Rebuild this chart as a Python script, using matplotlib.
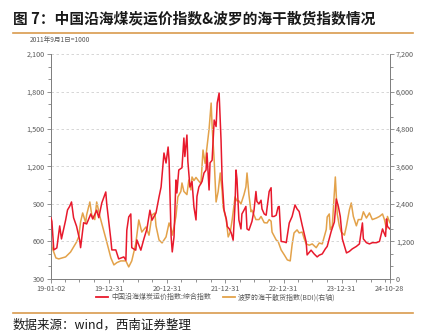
import matplotlib
matplotlib.use('Agg')

import matplotlib.pyplot as plt
import numpy as np
import pandas as pd

plt.rcParams['font.family'] = ['Noto Sans CJK SC', 'DejaVu Sans']
plt.rcParams['axes.unicode_minus'] = False

# ========== 数据 ==========
coal_dates = [
    '2019-01-02', '2019-01-08', '2019-01-20', '2019-02-08', '2019-02-26', '2019-03-09',
    '2019-04-04', '2019-04-16', '2019-04-29', '2019-05-11', '2019-05-24', '2019-06-12',
    '2019-07-01', '2019-07-07', '2019-07-26', '2019-08-14', '2019-09-09', '2019-09-21',
    '2019-10-16', '2019-10-29', '2019-11-17', '2019-12-12', '2019-12-18', '2020-01-13',
    '2020-01-19', '2020-02-13', '2020-03-02', '2020-03-21', '2020-04-03', '2020-04-16',
    '2020-04-22', '2020-05-04', '2020-05-17', '2020-05-23', '2020-06-17', '2020-06-24',
    '2020-07-19', '2020-08-07', '2020-08-26', '2020-09-14', '2020-09-27', '2020-10-22',
    '2020-11-10', '2020-11-23', '2020-12-11', '2020-12-24', '2021-01-06', '2021-01-12',
    '2021-01-25', '2021-02-01', '2021-02-12', '2021-02-24', '2021-03-02', '2021-03-14',
    '2021-04-03', '2021-04-15', '2021-04-21', '2021-05-04', '2021-05-10', '2021-05-23',
    '2021-06-05', '2021-06-17', '2021-06-30', '2021-07-06', '2021-07-18', '2021-08-07',
    '2021-08-19', '2021-09-01', '2021-09-07', '2021-09-20', '2021-09-26', '2021-10-09',
    '2021-10-22', '2021-11-03', '2021-11-10', '2021-11-22', '2021-12-04', '2021-12-11',
    '2021-12-23', '2022-01-06', '2022-01-12', '2022-01-25', '2022-02-06', '2022-02-18',
    '2022-03-02', '2022-03-08', '2022-03-14', '2022-03-20', '2022-03-26', '2022-04-08',
    '2022-04-14', '2022-04-27', '2022-05-09', '2022-05-16', '2022-05-28', '2022-06-16',
    '2022-06-29', '2022-07-11', '2022-07-17', '2022-07-30', '2022-08-12', '2022-08-18',
    '2022-09-01', '2022-09-13', '2022-10-02', '2022-10-14', '2022-10-20', '2022-11-02',
    '2022-11-15', '2022-11-27', '2022-12-04', '2022-12-16', '2023-01-05', '2023-01-17',
    '2023-02-05', '2023-02-23', '2023-03-13', '2023-03-26', '2023-04-08', '2023-04-27',
    '2023-05-22', '2023-05-28', '2023-06-22', '2023-07-11', '2023-07-30', '2023-08-12',
    '2023-08-31', '2023-09-19', '2023-10-01', '2023-10-26', '2023-11-15', '2023-11-27',
    '2023-12-10', '2023-12-22', '2024-01-04', '2024-01-30', '2024-02-17', '2024-03-06',
    '2024-04-01', '2024-04-20', '2024-05-09', '2024-05-15', '2024-06-03', '2024-06-22',
    '2024-07-10', '2024-08-05', '2024-08-24', '2024-09-12', '2024-09-18', '2024-10-01',
    '2024-10-07', '2024-10-13', '2024-10-28',
]
coal_values = [
    790, 760, 532, 548, 724, 620,
    770, 852, 880, 916, 790, 720,
    612, 550, 750, 740, 820, 780,
    850, 790, 908, 996, 900, 612,
    532, 532, 460, 470, 476, 450,
    690, 796, 820, 550, 530, 612,
    530, 620, 700, 850, 770, 828,
    956, 1036, 1308, 1228, 1356, 1250,
    636, 516, 636, 1092, 988, 1172,
    1190, 1428, 1280, 1452, 1240, 1036,
    1080, 876, 772, 960, 1036, 1080,
    1148, 1172, 1308, 1012, 1230, 1250,
    1572, 1520, 1708, 1788, 1412, 1092,
    852, 780, 720, 700, 668, 610,
    900, 1172, 1100, 940, 772, 700,
    820, 850, 880, 700, 690, 760,
    850, 1000, 920, 900, 930, 860,
    820, 810, 1000, 1030, 800, 800,
    810, 876, 880, 600, 596, 590,
    748, 800, 892, 860, 840, 730,
    596, 492, 530, 500, 476, 490,
    500, 540, 560, 680, 756, 940,
    880, 800, 620, 508, 520, 540,
    560, 580, 748, 620, 590, 580,
    590, 590, 600, 700, 680, 640,
    780, 720, 700,
]

bdi_dates = [
    '2019-01-02', '2019-01-08', '2019-02-02', '2019-02-20', '2019-04-04', '2019-05-05',
    '2019-05-24', '2019-06-12', '2019-06-25', '2019-07-07', '2019-07-20', '2019-08-08',
    '2019-08-14', '2019-09-03', '2019-09-15', '2019-10-04', '2019-10-16', '2019-11-05',
    '2019-11-23', '2019-12-18', '2020-01-13', '2020-02-01', '2020-02-19', '2020-03-15',
    '2020-04-16', '2020-05-04', '2020-05-23', '2020-06-17', '2020-07-06', '2020-07-25',
    '2020-08-20', '2020-09-08', '2020-09-27', '2020-10-15', '2020-10-22', '2020-11-10',
    '2020-11-29', '2020-12-24', '2021-01-12', '2021-01-25', '2021-02-01', '2021-02-12',
    '2021-02-24', '2021-03-08', '2021-03-27', '2021-04-03', '2021-04-15', '2021-05-04',
    '2021-05-16', '2021-05-29', '2021-06-05', '2021-06-17', '2021-06-30', '2021-07-12',
    '2021-07-31', '2021-08-13', '2021-08-26', '2021-09-07', '2021-09-20', '2021-10-03',
    '2021-10-09', '2021-10-22', '2021-11-03', '2021-11-16', '2021-11-29', '2021-12-11',
    '2021-12-17', '2022-01-06', '2022-01-18', '2022-01-31', '2022-02-12', '2022-03-02',
    '2022-03-14', '2022-03-26', '2022-04-08', '2022-04-27', '2022-05-09', '2022-05-16',
    '2022-05-28', '2022-06-10', '2022-06-16', '2022-07-11', '2022-07-30', '2022-08-12',
    '2022-09-01', '2022-09-19', '2022-10-02', '2022-10-14', '2022-10-20', '2022-11-15',
    '2022-11-27', '2022-12-16', '2023-01-05', '2023-01-24', '2023-02-11', '2023-02-23',
    '2023-03-07', '2023-03-26', '2023-04-08', '2023-04-27', '2023-05-09', '2023-05-22',
    '2023-06-10', '2023-06-29', '2023-07-24', '2023-08-12', '2023-08-31', '2023-09-25',
    '2023-10-01', '2023-10-14', '2023-10-20', '2023-11-02', '2023-11-21', '2023-12-03',
    '2023-12-16', '2023-12-28', '2024-01-17', '2024-01-30', '2024-02-17', '2024-02-29',
    '2024-03-13', '2024-04-01', '2024-04-13', '2024-05-02', '2024-05-15', '2024-06-03',
    '2024-06-22', '2024-07-10', '2024-08-05', '2024-08-24', '2024-09-12', '2024-09-24',
    '2024-10-07', '2024-10-13', '2024-10-28',
]
bdi_values = [
    1312, 1024, 672, 640, 704, 860,
    1024, 1184, 1344, 1824, 2112, 1800,
    2050, 2464, 2048, 1900, 2464, 2000,
    1664, 1184, 672, 448, 520, 576,
    576, 384, 576, 1120, 1888, 1500,
    1664, 1400, 2048, 2112, 1700, 1248,
    1152, 1344, 1792, 1600, 1400, 1664,
    2000, 2624, 2800, 3072, 2800, 2700,
    3168, 2850, 3264, 3150, 3250, 3168,
    3050, 4128, 3700, 4224, 4800, 5632,
    4900, 3800, 2464, 2800, 3392, 2800,
    2304, 1888, 1344, 1500, 1900, 2624,
    2500, 2500, 2400, 2700, 2944, 3392,
    2700, 2150, 2200, 1900, 1900, 2000,
    1800, 1792, 1900, 1850, 1500, 1248,
    1200, 928, 768, 608, 576, 1100,
    1472, 1570, 1472, 1500, 1300, 1120,
    1080, 1120, 1000, 1150, 1120, 1580,
    1984, 2080, 1580, 1700, 3264, 2080,
    1700, 1500, 1400, 1700, 2208, 2432,
    2000, 1700, 1900, 1900, 2150, 1950,
    2112, 1900, 1950, 2000, 2080, 1900,
    1600, 2000, 1800,
]

x_labels = ['19-01-02', '19-12-31', '20-12-31', '21-12-31', '22-12-31', '23-12-31', '24-10-28']
label_dates = ['2019-01-02', '2019-12-31', '2020-12-31', '2021-12-31',
               '2022-12-31', '2023-12-31', '2024-10-28']

RED = '#E8192C'
ORANGE = '#E3A24A'
RULE = '#D99B4E'
GRAY = '#595959'

# ========== 画图 ==========
fig = plt.figure(figsize=(4.21, 3.34), dpi=100)
ax = fig.add_axes([0.121, 0.165, 0.805, 0.673])
ax2 = ax.twinx()

ax.plot(pd.to_datetime(coal_dates), coal_values, color=RED, lw=1.1, zorder=3)
ax2.plot(pd.to_datetime(bdi_dates), bdi_values, color=ORANGE, lw=1.1, zorder=2)
ax.set_zorder(ax2.get_zorder() + 1)
ax.patch.set_visible(False)

start, end = pd.Timestamp('2019-01-02'), pd.Timestamp('2024-10-28')
ax.set_xlim(start, end)
ax.set_ylim(300, 2100)
ax2.set_ylim(0, 7200)

ax.set_yticks(np.arange(300, 2101, 300))
ax.set_yticklabels([f'{v:,}' for v in range(300, 2101, 300)])
ax.set_yticks(np.arange(300, 2101, 100), minor=True)
ax2.set_yticks(np.arange(0, 7201, 1200))
ax2.set_yticklabels([f'{v:,}' for v in range(0, 7201, 1200)])
ax2.set_yticks(np.arange(0, 7201, 400), minor=True)

ax.set_xticks(pd.to_datetime(label_dates))
ax.set_xticklabels(x_labels)
minor_x = pd.date_range('2019-03-31', '2024-09-30', freq='QE')
ax.set_xticks(minor_x, minor=True)

ax.grid(axis='y', which='major', color='#D0D0D0', linestyle=(0, (3, 3)), lw=0.6)

for a in (ax, ax2):
    a.spines['top'].set_visible(False)
    for s in ('left', 'right', 'bottom'):
        a.spines[s].set_color('#808080')
        a.spines[s].set_linewidth(0.7)
    a.tick_params(which='both', colors='#808080', labelcolor=GRAY, labelsize=5.2,
                  width=0.6, pad=1.5)
    a.tick_params(which='major', length=3)
    a.tick_params(which='minor', length=2)

ax.text(-0.062, 1.045, '2011年9月1日=1000', transform=ax.transAxes, fontsize=4.8,
        color=GRAY, ha='left', va='bottom')

# 图例
handles = [plt.Line2D([], [], color=RED, lw=1.3), plt.Line2D([], [], color=ORANGE, lw=1.3)]
fig.legend(handles, ['中国沿海煤炭运价指数:综合指数', '波罗的海干散货指数(BDI)(右轴)'],
           loc='center', bbox_to_anchor=(0.513, 0.11), ncol=2, frameon=False,
           fontsize=5, handlelength=1.6, handletextpad=0.5, columnspacing=1.8,
           labelcolor=GRAY)

# 标题与来源
fig.text(0.032, 0.945, '图 7：中国沿海煤炭运价指数&波罗的海干散货指数情况',
         fontsize=10.6, fontweight='bold', ha='left', va='center', color='#1a1a1a')
fig.add_artist(plt.Line2D([0.03, 0.98], [0.901, 0.901], color=RULE, lw=1.2,
                          transform=fig.transFigure))
fig.add_artist(plt.Line2D([0.03, 0.98], [0.063, 0.063], color=RULE, lw=1.2,
                          transform=fig.transFigure))
fig.text(0.03, 0.027, '数据来源：wind，西南证券整理', fontsize=9, style='italic',
         ha='left', va='center', color='#1a1a1a')

plt.savefig('out.png', dpi=100)
plt.close()
